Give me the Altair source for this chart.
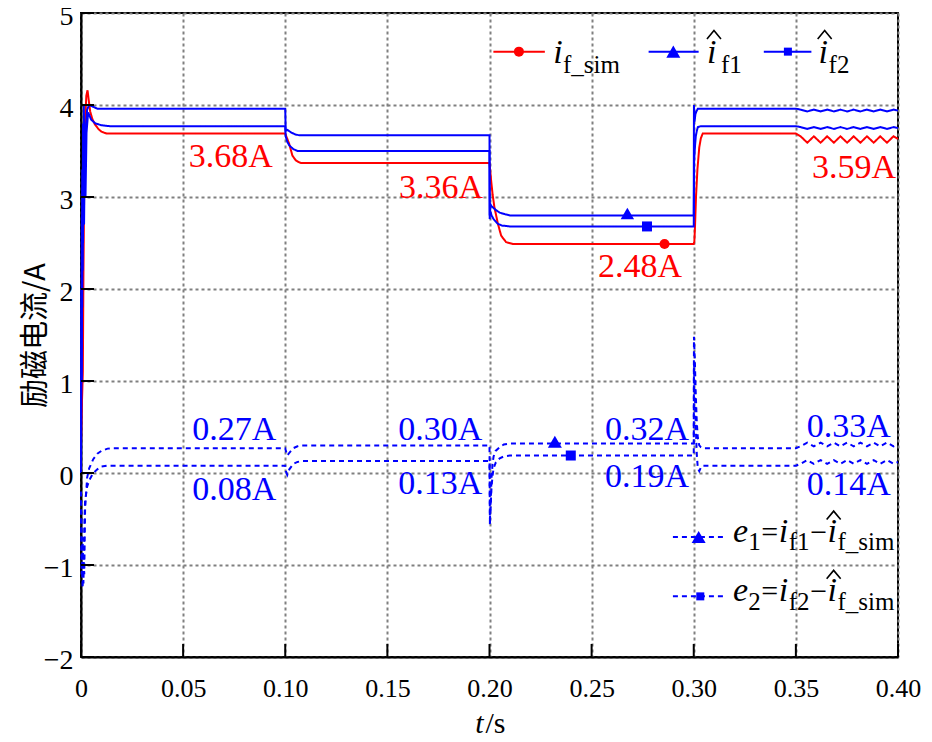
import json
import altair as alt
import pandas as pd

# ---------------- axis ticks ----------------
x_tick_values = [0, 0.05, 0.10, 0.15, 0.20, 0.25, 0.30, 0.35, 0.40]
x_tick_labels = ["0", "0.05", "0.10", "0.15", "0.20", "0.25", "0.30", "0.35", "0.40"]
y_tick_values = [-2, -1, 0, 1, 2, 3, 4, 5]
y_tick_labels = ["\u22122", "\u22121", "0", "1", "2", "3", "4", "5"]

# ---------------- series ----------------
wave_t = [0.35, 0.3523, 0.3556, 0.3588, 0.3621, 0.3653, 0.3686, 0.3718, 0.3751,
          0.3783, 0.3816, 0.3848, 0.3881, 0.3913, 0.3946, 0.3978, 0.40]

sim_t = [0, 0.0005, 0.0009, 0.0012, 0.0016, 0.002, 0.0026, 0.0032, 0.0038, 0.0045, 0.0055, 0.0068, 0.0085, 0.010, 0.0125,
         0.1, 0.1005, 0.1019, 0.1035, 0.1051, 0.1065, 0.1076,
         0.2, 0.2003, 0.2008, 0.2015, 0.2024, 0.2041, 0.2057, 0.2081, 0.2114,
         0.3, 0.3003, 0.3006, 0.3011, 0.3018, 0.3027, 0.3035, 0.3044] + wave_t
sim_v = [0.3, 0.8, 1.1, 2.2, 3.2, 3.8, 4.1, 4.16, 4.05, 3.93, 3.85, 3.79, 3.74, 3.71, 3.69,
         3.69, 3.66, 3.58, 3.45, 3.40, 3.38, 3.37,
         3.37, 3.30, 3.18, 3.03, 2.89, 2.71, 2.58, 2.51, 2.49,
         2.49, 2.52, 2.67, 3.00, 3.30, 3.54, 3.64, 3.69,
         3.69, 3.66, 3.59, 3.66, 3.59, 3.66, 3.59, 3.66, 3.59, 3.66, 3.59, 3.66, 3.59, 3.66, 3.59, 3.66, 3.63]

if1_t = [0, 0.0002, 0.0004, 0.0006, 0.0008, 0.001, 0.0012, 0.0014, 0.0017, 0.002, 0.0025, 0.003, 0.004, 0.006, 0.008,
         0.1, 0.1002, 0.101, 0.103, 0.105, 0.107,
         0.2, 0.2001, 0.2005, 0.201, 0.203, 0.205, 0.208, 0.21,
         0.3, 0.3001, 0.3004, 0.3008, 0.3013, 0.302] + wave_t
if1_v = [0.0, 2.0, 1.0, 3.3, 2.2, 3.8, 2.9, 4.0, 3.2, 3.6, 3.8, 3.95, 4.0, 3.98, 3.96,
         3.96, 3.72, 3.73, 3.70, 3.68, 3.67,
         3.67, 2.76, 2.92, 2.90, 2.86, 2.83, 2.81, 2.80,
         2.80, 4.00, 3.82, 3.90, 3.93, 3.96,
         3.96, 3.95, 3.93, 3.95, 3.93, 3.95, 3.93, 3.95, 3.93, 3.95, 3.93, 3.95, 3.93, 3.95, 3.93, 3.95, 3.94]

if2_t = [0, 0.0002, 0.0004, 0.0006, 0.0008, 0.001, 0.0012, 0.0015, 0.0018, 0.0022, 0.0027, 0.0035, 0.005, 0.007, 0.010, 0.014,
         0.1, 0.1002, 0.101, 0.102, 0.104, 0.106,
         0.2, 0.2001, 0.2005, 0.201, 0.202, 0.204, 0.206, 0.21,
         0.3, 0.3002, 0.3006, 0.301, 0.3015, 0.302, 0.3035] + wave_t
if2_v = [0.0, 1.5, 2.8, 1.8, 3.1, 2.5, 3.6, 2.7, 3.4, 3.0, 3.7, 3.92, 3.84, 3.80, 3.78, 3.77,
         3.77, 3.66, 3.60, 3.56, 3.52, 3.50,
         3.50, 2.80, 2.84, 2.80, 2.76, 2.71, 2.69, 2.68,
         2.68, 3.40, 3.55, 3.66, 3.72, 3.76, 3.77,
         3.77, 3.76, 3.74, 3.76, 3.74, 3.76, 3.74, 3.76, 3.74, 3.76, 3.74, 3.76, 3.74, 3.76, 3.74, 3.76, 3.75]

e1_t = [0, 0.0004, 0.0008, 0.0012, 0.0016, 0.002, 0.003, 0.004, 0.006, 0.008, 0.010, 0.013, 0.016,
        0.1, 0.1003, 0.101, 0.102, 0.104, 0.106, 0.108,
        0.2, 0.2002, 0.2006, 0.201, 0.2015, 0.202, 0.203, 0.205, 0.207, 0.21,
        0.3, 0.3001, 0.3005, 0.301, 0.3015, 0.302, 0.3027, 0.3035, 0.3044] + wave_t
e1_v = [-0.2, -1.0, -1.25, -0.9, -1.1, -0.4, -0.05, 0.05, 0.15, 0.21, 0.24, 0.265, 0.27,
        0.27, 0.24, 0.19, 0.22, 0.27, 0.29, 0.30,
        0.30, -0.57, -0.30, -0.05, 0.10, 0.18, 0.24, 0.28, 0.31, 0.32,
        0.32, 1.48, 1.25, 0.85, 0.55, 0.38, 0.30, 0.28, 0.27,
        0.27, 0.29, 0.33, 0.29, 0.33, 0.29, 0.33, 0.29, 0.33, 0.29, 0.33, 0.29, 0.33, 0.29, 0.33, 0.29, 0.31]

e2_t = [0, 0.0004, 0.0008, 0.0012, 0.0016, 0.002, 0.003, 0.004, 0.006, 0.008, 0.010, 0.013,
        0.1, 0.1003, 0.101, 0.102, 0.104, 0.106, 0.108,
        0.2, 0.2002, 0.2006, 0.201, 0.2015, 0.202, 0.203, 0.205, 0.207, 0.21,
        0.3, 0.3001, 0.3005, 0.301, 0.3015, 0.302, 0.3027, 0.3035, 0.3044] + wave_t
e2_v = [-0.3, -1.1, -0.7, -1.2, -0.6, -0.3, -0.15, -0.08, 0.0, 0.04, 0.07, 0.08,
        0.08, 0.02, -0.02, 0.04, 0.10, 0.12, 0.13,
        0.13, -0.50, -0.35, -0.15, -0.03, 0.05, 0.11, 0.16, 0.18, 0.19,
        0.19, 1.20, 0.90, 0.50, 0.20, 0.05, 0.02, 0.06, 0.08,
        0.08, 0.10, 0.14, 0.10, 0.14, 0.10, 0.14, 0.10, 0.14, 0.10, 0.14, 0.10, 0.14, 0.10, 0.14, 0.10, 0.12]

series_names = ["if_sim", "if1", "if2", "e1", "e2"]
series_colors = ["#ff0000", "#0000ff", "#0000ff", "#0000ff", "#0000ff"]
series_dash = [[1, 0], [1, 0], [1, 0], [5, 4], [5, 4]]
series_shapes = ["circle", "triangle-up", "square", "triangle-up", "square"]
curve_marker_sizes = [100, 180, 100, 196, 100]
legend_marker_sizes = [100, 196, 64, 196, 64]

# markers on the curves
marker_series = ["if_sim", "if1", "if2", "e1", "e2"]
marker_t = [0.2857, 0.2675, 0.2771, 0.2320, 0.2398]
marker_v = [2.49, 2.82, 2.68, 0.34, 0.19]

# value annotations
annot_text = ["3.68A", "3.36A", "2.48A", "3.59A", "0.27A", "0.08A", "0.30A", "0.13A",
              "0.32A", "0.19A", "0.33A", "0.14A"]
annot_series = ["if_sim", "if_sim", "if_sim", "if_sim", "e1", "e1", "e1", "e1", "e1", "e1", "e1", "e1"]
annot_t = [0.0733, 0.1763, 0.2737, 0.3785, 0.0751, 0.0751, 0.1759, 0.1759, 0.2771, 0.2771, 0.3759, 0.3759]
annot_v = [3.323, 2.986, 2.127, 3.203, 0.355, -0.297, 0.355, -0.224, 0.355, -0.152, 0.391, -0.242]

# legend samples
leg_series = ["if_sim", "if1", "if2", "e1", "e2"]
leg_t0 = [0.2019, 0.2779, 0.3343, 0.2898, 0.2898]
leg_t1 = [0.2271, 0.3024, 0.3576, 0.3157, 0.3157]
leg_tm = [0.2144, 0.2900, 0.3461, 0.3024, 0.3032]
leg_v = [4.58, 4.58, 4.58, -0.696, -1.341]

# legend text pieces: text, t, v, style
leg_pieces = [
    ("i", 0.2312, 4.453, "it"), ("f_sim", 0.2360, 4.345, "sub"),
    ("i", 0.3065, 4.453, "it"), ("f1", 0.3133, 4.345, "sub"),
    ("i", 0.3611, 4.453, "it"), ("f2", 0.3660, 4.345, "sub"),
    ("e", 0.3192, -0.75, "it"), ("1", 0.3267, -0.84, "sub"), ("=", 0.3331, -0.75, "op"),
    ("i", 0.3416, -0.75, "it"), ("f1", 0.3465, -0.84, "sub"), ("\u2212", 0.3570, -0.75, "op"),
    ("i", 0.3655, -0.75, "it"), ("f_sim", 0.3704, -0.84, "sub"),
    ("e", 0.3192, -1.395, "it"), ("2", 0.3267, -1.485, "sub"), ("=", 0.3331, -1.395, "op"),
    ("i", 0.3416, -1.395, "it"), ("f2", 0.3465, -1.485, "sub"), ("\u2212", 0.3570, -1.395, "op"),
    ("i", 0.3655, -1.395, "it"), ("f_sim", 0.3704, -1.485, "sub"),
]
# hats over the estimated currents
hat_t = [0.3099, 0.3641, 0.3685, 0.3685]
hat_v = [4.763, 4.763, -0.460, -1.104]

# ---------------- tables ----------------
rows = []
for name, ts, vs in [("if_sim", sim_t, sim_v), ("if1", if1_t, if1_v), ("if2", if2_t, if2_v),
                     ("e1", e1_t, e1_v), ("e2", e2_t, e2_v)]:
    for t, v in zip(ts, vs):
        rows.append({"series": name, "t": t, "v": v})
lines_df = pd.DataFrame(rows)
markers_df = pd.DataFrame({"series": marker_series, "t": marker_t, "v": marker_v})
annot_df = pd.DataFrame({"text": annot_text, "series": annot_series, "t": annot_t, "v": annot_v})
leg_df = pd.DataFrame({"series": leg_series, "t0": leg_t0, "t1": leg_t1, "tm": leg_tm, "v": leg_v})
pieces_df = pd.DataFrame(leg_pieces, columns=["text", "t", "v", "style"])
hat_df = pd.DataFrame({"t": hat_t, "v": hat_v})
yt_df = pd.DataFrame({"v": y_tick_values})
xt_df = pd.DataFrame({"t": x_tick_values})
xtitle_df = pd.DataFrame({"text": ["t", "/s"], "t": [0.2, 0.2], "v": [-2.83, -2.83]})

FONT = "Liberation Serif, Times New Roman, serif"
xscale = alt.Scale(domain=[0, 0.4], nice=False, zero=False)
yscale = alt.Scale(domain=[-2, 5], nice=False, zero=False)
cscale = alt.Scale(domain=series_names, range=series_colors)
dscale = alt.Scale(domain=series_names, range=series_dash)

xlab_expr = json.dumps(x_tick_labels, ensure_ascii=False) + "[round(datum.value*20)]"
ylab_expr = json.dumps(y_tick_labels, ensure_ascii=False) + "[round(datum.value)+2]"

x_axis = alt.Axis(values=x_tick_values, labelExpr=xlab_expr, labelPadding=18, labelFlush=False,
                  labelOverlap=False, title=None, labelFontSize=26)
y_axis = alt.Axis(values=y_tick_values, labelExpr=ylab_expr, labelPadding=8, labelOffset=3,
                  labelOverlap=False, title="励磁电流/A", titleFont="Noto Sans CJK SC",
                  labelFontSize=28,
                  titleFontSize=29, titleFontWeight="normal", titleAngle=270, titleX=-46, titleY=322,
                  titleBaseline="middle", titleAlign="center")


def X(f):
    return alt.X(f, type="quantitative", scale=xscale, axis=x_axis)


def Y(f):
    return alt.Y(f, type="quantitative", scale=yscale, axis=y_axis)


lines = alt.Chart(lines_df).mark_line(strokeWidth=2).encode(
    x=X("t"), y=Y("v"),
    color=alt.Color("series:N", scale=cscale, legend=None),
    strokeDash=alt.StrokeDash("series:N", scale=dscale, legend=None),
    order=alt.Order("t:Q"),
)

left_ticks = alt.Chart(yt_df).mark_rule(color="black", strokeWidth=2).encode(
    y=Y("v"), x=alt.value(0), x2=alt.value(13))
bottom_ticks = alt.Chart(xt_df).mark_rule(color="black", strokeWidth=2).encode(
    x=X("t"), y=alt.value(644), y2=alt.value(631))

marker_layers = []
for i, name in enumerate(series_names):
    marker_layers.append(
        alt.Chart(markers_df[markers_df["series"] == name]).mark_point(
            filled=True, opacity=1, shape=series_shapes[i], size=curve_marker_sizes[i],
            color=series_colors[i], strokeWidth=0
        ).encode(x=X("t"), y=Y("v"))
    )
    marker_layers.append(
        alt.Chart(leg_df[leg_df["series"] == name]).mark_point(
            filled=True, opacity=1, shape=series_shapes[i], size=legend_marker_sizes[i],
            color=series_colors[i], strokeWidth=0
        ).encode(x=X("tm"), y=Y("v"))
    )

annots = alt.Chart(annot_df).mark_text(font=FONT, fontSize=34, align="center", baseline="alphabetic").encode(
    x=X("t"), y=Y("v"), text="text:N",
    color=alt.Color("series:N", scale=cscale, legend=None),
)

leg_lines = alt.Chart(leg_df).mark_rule(strokeWidth=2).encode(
    x=X("t0"), x2="t1", y=Y("v"),
    color=alt.Color("series:N", scale=cscale, legend=None),
    strokeDash=alt.StrokeDash("series:N", scale=dscale, legend=None),
)

hats = alt.Chart(hat_df).mark_point(
    shape="M-1,0.6L0,-0.6L1,0.6", filled=False, color="black", strokeWidth=1.6, size=196, opacity=1
).encode(x=X("t"), y=Y("v"))


def piece_layer(style, **kw):
    return alt.Chart(pieces_df[pieces_df["style"] == style]).mark_text(
        font=FONT, color="black", baseline="alphabetic", **kw).encode(
        x=X("t"), y=Y("v"), text="text:N")


p_it = piece_layer("it", fontSize=34, fontStyle="italic", align="left")
p_sub = piece_layer("sub", fontSize=25, align="left")
p_op = piece_layer("op", fontSize=30, align="left")

xt_t = alt.Chart(xtitle_df[xtitle_df["text"] == "t"]).mark_text(
    font=FONT, fontSize=30, fontStyle="italic", align="right", baseline="alphabetic", dx=-6, color="black"
).encode(x=X("t"), y=Y("v"), text="text:N")
xt_s = alt.Chart(xtitle_df[xtitle_df["text"] == "/s"]).mark_text(
    font=FONT, fontSize=30, align="left", baseline="alphabetic", dx=-4, color="black"
).encode(x=X("t"), y=Y("v"), text="text:N")

chart = alt.layer(
    lines, left_ticks, bottom_ticks, annots, leg_lines, *marker_layers, hats,
    p_it, p_sub, p_op, xt_t, xt_s
).properties(
    width=817, height=644,
    padding={"left": 73, "top": 5, "right": 26, "bottom": 85},
    autosize=alt.AutoSizeParams(type="none"),
    background="white",
).configure_view(
    stroke="black", strokeWidth=2
).configure_axis(
    labelFont=FONT, labelColor="black",
    domainColor="black", domainWidth=2, ticks=False,
    grid=True, gridColor="#808080", gridDash=[3, 3], gridWidth=2,
    titleColor="black",
)

chart.save("out.html", embed_options={"renderer": "svg", "actions": False})
